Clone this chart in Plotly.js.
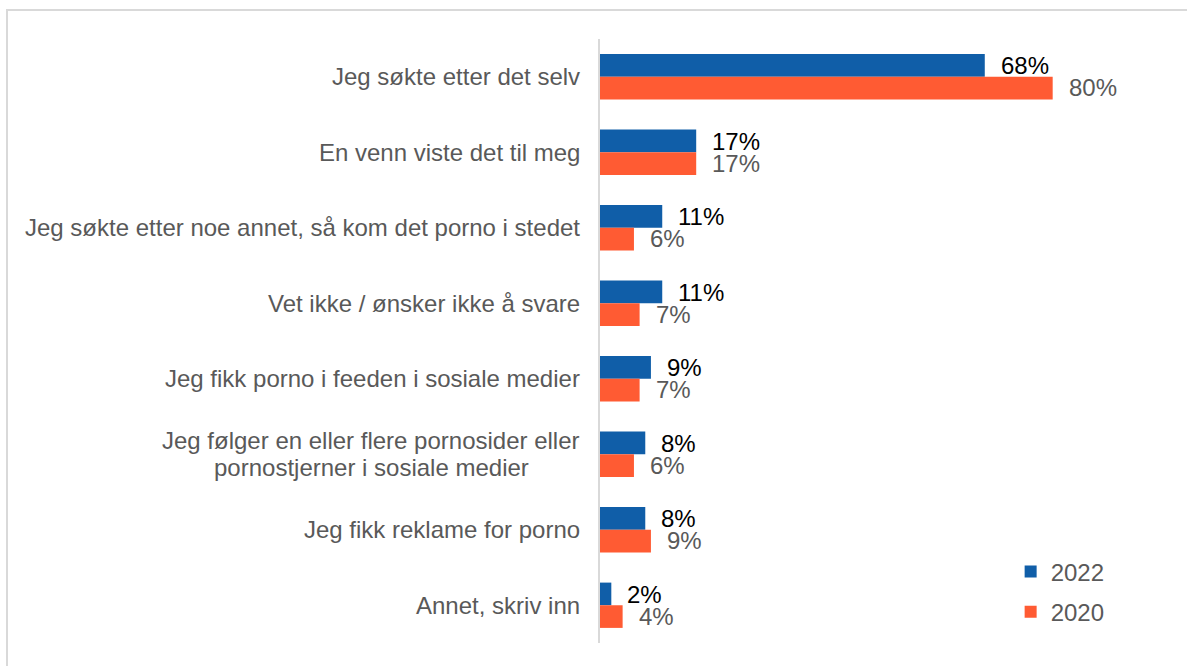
<!DOCTYPE html>
<html>
<head>
<meta charset="utf-8">
<script src="https://cdn.plot.ly/plotly-3.0.1.min.js"></script>
<style>
html,body{margin:0;padding:0;background:#fff;width:1187px;height:666px;overflow:hidden;}
#frame{position:absolute;left:6px;top:9px;width:1300px;height:800px;border-left:2px solid #d9d9d9;border-top:2px solid #d9d9d9;}
#chart{position:absolute;left:0;top:0;width:1187px;height:666px;}
</style>
</head>
<body>
<div id="frame"></div>
<div id="chart"></div>
<script>
const categories = [
  "Jeg søkte etter det selv",
  "En venn viste det til meg",
  "Jeg søkte etter noe annet, så kom det porno i stedet",
  "Vet ikke / ønsker ikke å svare",
  "Jeg fikk porno i feeden i sosiale medier",
  "Jeg følger en eller flere pornosider eller<br>pornostjerner i sosiale medier",
  "Jeg fikk reklame for porno",
  "Annet, skriv inn"
];
const values2022 = [68, 17, 11, 11, 9, 8, 8, 2];
const values2020 = [80, 17, 6, 7, 7, 6, 9, 4];
const seriesNames = ["2022", "2020"];

const FONT = "Arial, 'Liberation Sans', sans-serif";
const FS = 24;
const traces = [
  {type:'bar', orientation:'h', name:seriesNames[0], y:categories, x:values2022,
   marker:{color:'#105EA8'}, legendgroup:'a', hoverinfo:'x'},
  {type:'bar', orientation:'h', name:seriesNames[1], y:categories, x:values2020,
   marker:{color:'#FF5B33'}, legendgroup:'b', hoverinfo:'x'}
];

function measure(t){
  const cv = document.createElement('canvas').getContext('2d');
  cv.font = FS + "px Arial, 'Liberation Sans', sans-serif";
  return cv.measureText(t).width;
}

const annotations = [];
categories.forEach((c, i) => {
  const lines = c.split('<br>');
  const lh = 27;
  const blockW = Math.max(...lines.map(measure));
  lines.forEach((ln, k) => {
    annotations.push({xref:'paper', yref:'y', x:0, y:c, xanchor:'center', yanchor:'middle',
      xshift:-20 - blockW / 2, yshift:((lines.length - 1) / 2 - k) * lh, text:ln,
      showarrow:false, align:'center',
      font:{family:FONT, size:FS, color:'#595959'}});
  });
  annotations.push({xref:'x', yref:'y', x:values2022[i], y:c, xanchor:'left', yanchor:'middle',
    xshift:14, yshift:11, text:values2022[i] + '%', showarrow:false,
    font:{family:FONT, size:FS, color:'#000000'}});
  annotations.push({xref:'x', yref:'y', x:values2020[i], y:c, xanchor:'left', yanchor:'middle',
    xshift:14, yshift:-11, text:values2020[i] + '%', showarrow:false,
    font:{family:FONT, size:FS, color:'#595959'}});
});

const layout = {
  width:1187, height:666,
  margin:{l:600, r:7, t:39, b:23, pad:0},
  paper_bgcolor:'rgba(0,0,0,0)', plot_bgcolor:'rgba(0,0,0,0)',
  barmode:'group', bargap:0.40, bargroupgap:0,
  font:{family:FONT, size:FS, color:'#595959'},
  xaxis:{range:[0, 102.5], showgrid:false, zeroline:false, showticklabels:false,
         showline:false, ticks:''},
  yaxis:{type:'category', autorange:'reversed', showgrid:false, zeroline:false,
         showticklabels:false, ticks:'', showline:true, linecolor:'#d9d9d9', linewidth:2},
  showlegend:true,
  legend:{x:0.708, y:0.155, xanchor:'left', yanchor:'top', traceorder:'grouped',
          tracegroupgap:6, font:{family:FONT, size:FS, color:'#595959'},
          bgcolor:'rgba(0,0,0,0)', itemwidth:30},
  annotations:annotations
};

Plotly.newPlot('chart', traces, layout, {displayModeBar:false, staticPlot:true});
</script>
</body>
</html>
